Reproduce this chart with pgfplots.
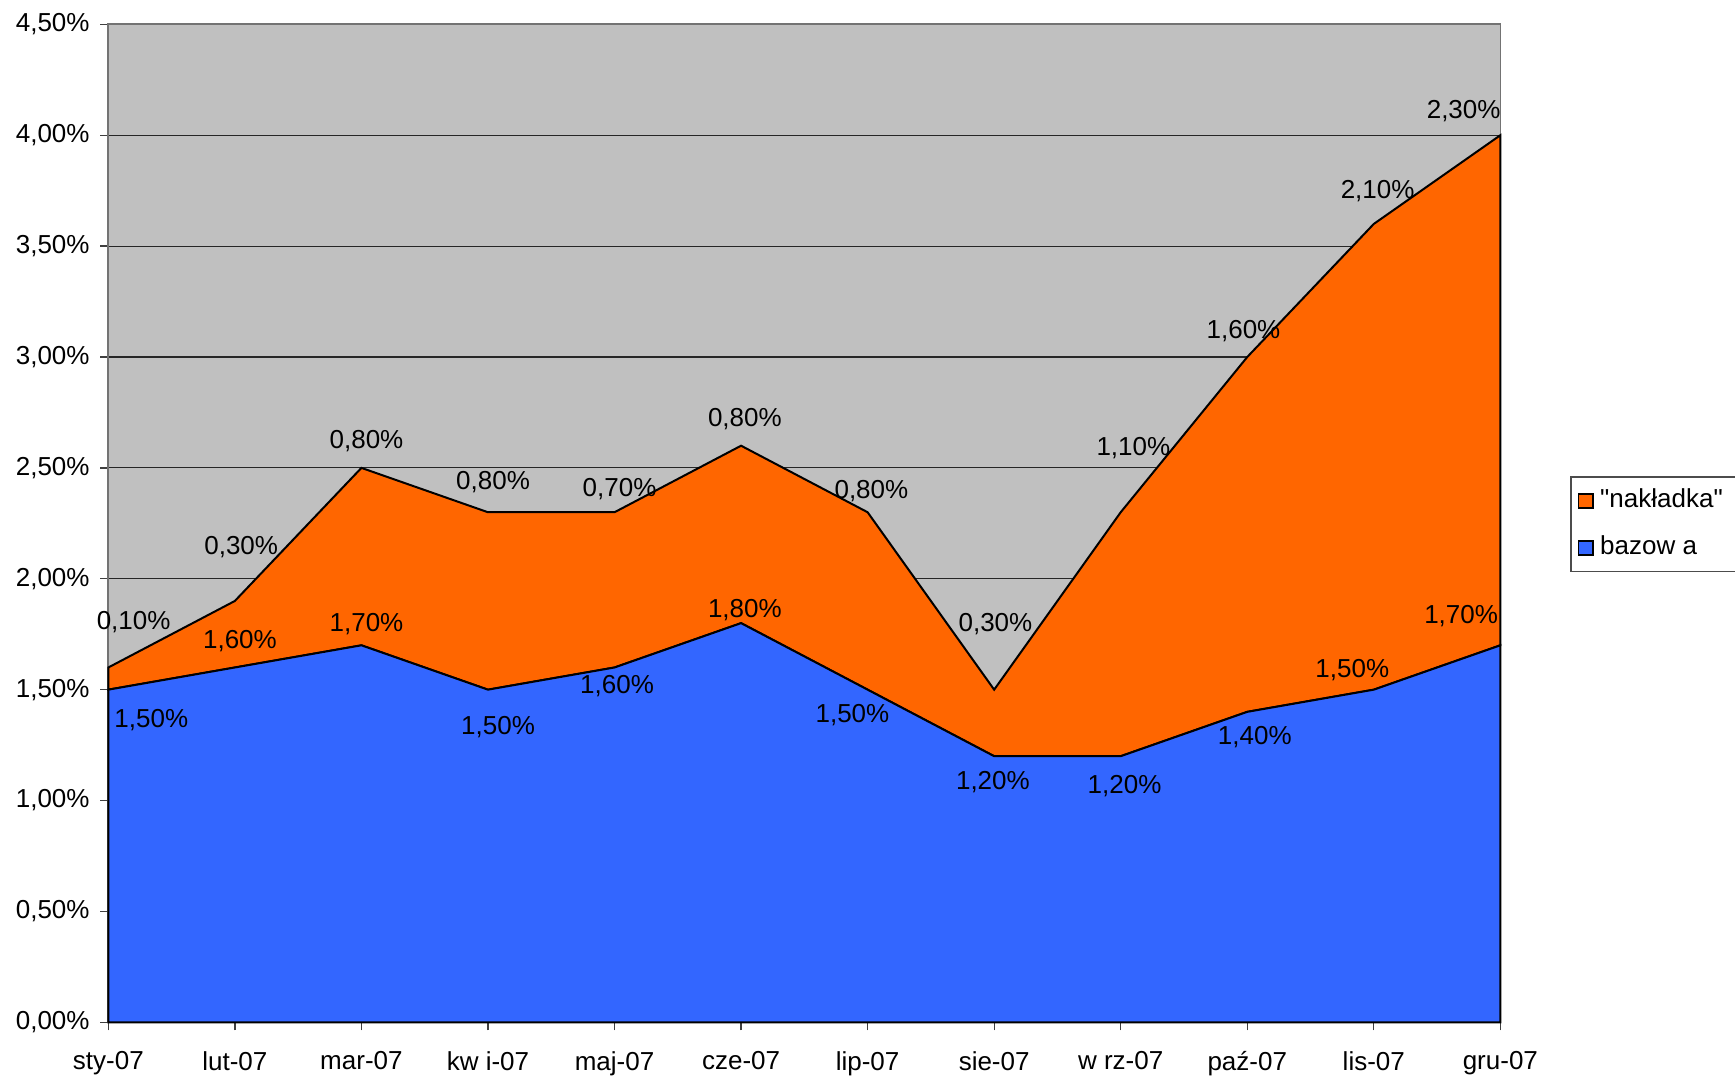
\documentclass[border=0pt]{standalone}
\usepackage{fontspec}
\setmainfont{Liberation Sans}[Ligatures=TeXOff]
\usepackage{pgfplots}
\pgfplotsset{compat=1.18}
\definecolor{bgray}{RGB}{192,192,192}
\definecolor{xblue}{RGB}{51,102,255}
\definecolor{xorange}{RGB}{255,102,0}
\newcommand{\lf}{\fontsize{7.8}{9}\selectfont}
\begin{document}
\begin{tikzpicture}
\begin{axis}[
  name=ax,
  scale only axis,
  width=417.6pt, height=299.4pt,
  xmin=0, xmax=11, ymin=0, ymax=4.5,
  stack plots=y,
  clip=false,
  xtick={0,...,11},
  xticklabels={sty-07,lut-07,mar-07,kw i-07,maj-07,cze-07,lip-07,sie-07,w rz-07,paź-07,lis-07,gru-07},
  ytick={0,0.5,1,1.5,2,2.5,3,3.5,4,4.5},
  yticklabels={{0,00\%},{0,50\%},{1,00\%},{1,50\%},{2,00\%},{2,50\%},{3,00\%},{3,50\%},{4,00\%},{4,50\%}},
  ticklabel style={font=\lf},
  yticklabel style={xshift=0.3pt},
  xticklabel style={yshift=-2.8pt},
  xtick pos=bottom, ytick pos=left,
  tick align=outside,
  major tick length=2.4pt,
  tick style={draw=black!75, line width=0.4pt},
  axis line style={draw=black!55, line width=0.5pt},
  ymajorgrids,
  major grid style={draw=black!85, line width=0.35pt},
  axis background/.style={fill=bgray},
  reverse legend,
  legend style={at={(1.110,0.499)}, anchor=center, draw=black!70, line width=0.4pt,
    font=\lf, row sep=3pt, inner xsep=2pt, inner ysep=1.5pt, cells={anchor=west}},
  legend image code/.code={\draw[#1,draw=black,line width=0.5pt] (1.3pt,-2.1pt) rectangle (5.6pt,2.1pt);},
]
\addplot[fill=xblue, draw=black, line width=0.6pt] coordinates {
(0,1.5) (1,1.6) (2,1.7) (3,1.5) (4,1.6) (5,1.8) (6,1.5) (7,1.2) (8,1.2) (9,1.4) (10,1.5) (11,1.7)
} \closedcycle;
\addlegendentry{bazow a}
\addplot[fill=xorange, draw=black, line width=0.6pt] coordinates {
(0,0.1) (1,0.3) (2,0.8) (3,0.8) (4,0.7) (5,0.8) (6,0.8) (7,0.3) (8,1.1) (9,1.6) (10,2.1) (11,2.3)
} \closedcycle;
\addlegendentry{\char34 nakładka\char34}
% label anchors bazowa
\coordinate (b1) at (axis cs:0.34,1.362);
\coordinate (b2) at (axis cs:1.04,1.72);
\coordinate (b3) at (axis cs:2.04,1.796);
\coordinate (b4) at (axis cs:3.08,1.332);
\coordinate (b5) at (axis cs:4.02,1.517);
\coordinate (b6) at (axis cs:5.03,1.861);
\coordinate (b7) at (axis cs:5.88,1.387);
\coordinate (b8) at (axis cs:6.99,1.083);
\coordinate (b9) at (axis cs:8.03,1.063);
\coordinate (b10) at (axis cs:9.06,1.287);
\coordinate (b11) at (axis cs:9.83,1.59);
\coordinate (b12) at (axis cs:10.69,1.831);
% label anchors nakladka
\coordinate (n1) at (axis cs:0.20,1.806);
\coordinate (n2) at (axis cs:1.05,2.145);
\coordinate (n3) at (axis cs:2.04,2.619);
\coordinate (n4) at (axis cs:3.04,2.435);
\coordinate (n5) at (axis cs:4.04,2.405);
\coordinate (n6) at (axis cs:5.03,2.719);
\coordinate (n7) at (axis cs:6.03,2.395);
\coordinate (n8) at (axis cs:7.01,1.796);
\coordinate (n9) at (axis cs:8.10,2.589);
\coordinate (n10) at (axis cs:8.97,3.118);
\coordinate (n11) at (axis cs:10.03,3.747);
\coordinate (n12) at (axis cs:10.71,4.111);
\end{axis}
\foreach \c/\t in {b1/{1,50}, b2/{1,60}, b3/{1,70}, b4/{1,50}, b5/{1,60}, b6/{1,80}, b7/{1,50}, b8/{1,20}, b9/{1,20}, b10/{1,40}, b11/{1,50}, b12/{1,70},
  n1/{0,10}, n2/{0,30}, n3/{0,80}, n4/{0,80}, n5/{0,70}, n6/{0,80}, n7/{0,80}, n8/{0,30}, n9/{1,10}, n10/{1,60}, n11/{2,10}, n12/{2,30}}
  {\node[font=\lf] at (\c) {\t\%};}
\pgfresetboundingbox
\path[use as bounding box] ([shift={(-32.5pt,-16.7pt)}]ax.south west) rectangle ([shift={(70.4pt,7.3pt)}]ax.north east);
\end{tikzpicture}
\end{document}
